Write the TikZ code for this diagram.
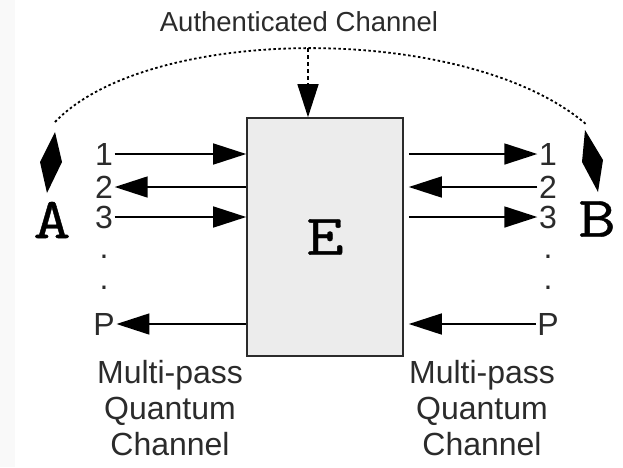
\documentclass[tikz,border=0pt]{standalone}
\usepackage{fontspec}
\setmainfont{Liberation Sans}
\newfontfamily\partyfont{Latin Modern Mono}[FakeBold=0.6]
\usetikzlibrary{arrows.meta}

\definecolor{inkgray}{HTML}{2B2B2B}
\definecolor{boxgray}{HTML}{ECECEC}

% wide typewriter letter for the parties
\newcommand{\widett}[1]{\scalebox{1.25}[1]{#1}}

\begin{document}
\begin{tikzpicture}[x=1pt, y=-1pt, line width=1.6pt,
	every node/.style={text=inkgray, inner sep=1pt},
	num/.style={font=\fontsize{32}{34}\selectfont},
	party/.style={font=\fontsize{58}{60}\selectfont\partyfont, text=black},
	>={Triangle[length=33pt, width=21pt]}]
	\useasboundingbox (0,0) rectangle (623,467);
	\fill[gray!5] (0,0) rectangle (15,467);
	% Eve in the middle
	\node[draw=inkgray, fill=boxgray, minimum width=156pt, minimum height=238pt, party, inner sep=0pt] (E) at (325,237) {\widett{E}};
	\node[party] (A) at (52,220) {\widett{A}};
	\node[party] (B) at (597,219) {\widett{B}};
	\fill (55,132) -- (40,162) -- (47,193) -- (62,162) -- cycle;
	\fill (585,130) -- (582,162) -- (598,192) -- (603,160) -- cycle;
	% authenticated classical channel
	\node[font=\fontsize{27.5}{30}\selectfont] (title) at (299,22) {Authenticated Channel};
	\coordinate (arcL) at (55,122);
	\coordinate (arcR) at (587,125);
	\coordinate (auth) at (308,48);
	\draw[line width=1.8pt, dash pattern=on 2.5pt off 2.5pt] (arcL) .. controls (150,23) and (470,23) .. (arcR);
	\draw[->, line width=1.3pt, dash pattern=on 4pt off 3pt] (auth) -- (E.north -| auth);
	% passes on both sides
	\foreach \n/\y in {1/154,2/187,3/217,P/324} {
		\node[num] (l\n) at (104,\y) {\n};
		\node[num] (r\n) at (548,\y) {\n};
	}
	\foreach \y in {257,288} {
		\node[num] (ld\y) at (104,\y) {.};
		\node[num] (rd\y) at (548,\y) {.};
	}
	\draw[->] (l1) -- (E.west |- l1);
	\draw[->] (E.west |- l2) -- (l2);
	\draw[->] (l3) -- (E.west |- l3);
	\draw[->] (E.west |- lP) -- (lP);
	\draw[->, shorten <=5pt] (E.east |- r1) -- (r1);
	\draw[->, shorten >=5pt] (r2) -- (E.east |- r2);
	\draw[->, shorten <=5pt] (E.east |- r3) -- (r3);
	\draw[->, shorten >=5pt] (rP) -- (E.east |- rP);
	\node[font=\fontsize{32}{36}\selectfont, align=center] (chL) at (170,408) {Multi-pass\\Quantum\\Channel};
	\node[font=\fontsize{32}{36}\selectfont, align=center] (chR) at (482,408) {Multi-pass\\Quantum\\Channel};
\end{tikzpicture}
\end{document}
